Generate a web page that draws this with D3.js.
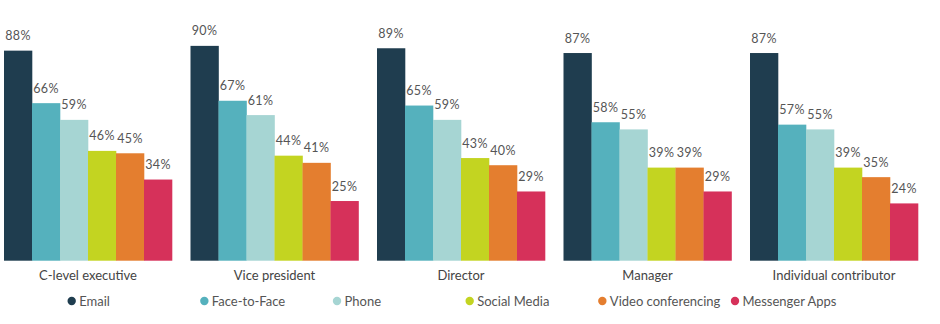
<!DOCTYPE html>
<html>
<head>
<meta charset="utf-8">
<script src="https://cdn.jsdelivr.net/npm/d3@7"></script>
<style>
  html, body { margin: 0; padding: 0; background: #fff; }
  svg { display: block; }
  text { font-family: Lato, "Open Sans", sans-serif; }
</style>
</head>
<body>
<svg id="chart" width="940" height="324"></svg>
<script>
const categories = ["C-level executive", "Vice president", "Director", "Manager", "Individual contributor"];
const seriesNames = ["Email", "Face-to-Face", "Phone", "Social Media", "Video conferencing", "Messenger Apps"];
const email       = [88, 90, 89, 87, 87];
const faceToFace  = [66, 67, 65, 58, 57];
const phone       = [59, 61, 59, 55, 55];
const socialMedia = [46, 44, 43, 39, 39];
const videoConf   = [45, 41, 40, 39, 35];
const messenger   = [34, 25, 29, 29, 24];
const colors = ["#1f3d4f", "#55b1bd", "#a6d5d3", "#c3d421", "#e47e2f", "#d6315a"];

const seriesValues = [email, faceToFace, phone, socialMedia, videoConf, messenger];

const svg = d3.select("#chart");
const baseY = 260.7;

const x0 = d3.scaleBand().domain(categories).range([4, 918]).paddingInner(0.0992).paddingOuter(0);
const x1 = d3.scaleBand().domain(seriesNames).range([0, x0.bandwidth()]).padding(0);
const y = d3.scaleLinear().domain([0, 100]).range([baseY, 22]);
const color = d3.scaleOrdinal().domain(seriesNames).range(colors);

const groups = svg.append("g").selectAll("g")
  .data(categories)
  .join("g")
  .attr("transform", d => `translate(${x0(d)},0)`);

const cells = groups.selectAll("g.cell")
  .data((c, ci) => seriesNames.map((s, si) => ({ s, v: seriesValues[si][ci] })))
  .join("g").attr("class", "cell");

cells.append("rect")
  .attr("x", d => x1(d.s))
  .attr("y", d => y(d.v))
  .attr("width", x1.bandwidth() + 0.3)
  .attr("height", d => baseY - y(d.v))
  .attr("fill", d => color(d.s));

cells.append("text")
  .attr("x", d => x1(d.s) + x1.bandwidth() / 2)
  .attr("y", d => y(d.v) - 10.5)
  .attr("text-anchor", "middle")
  .attr("font-size", 12.5)
  .attr("letter-spacing", 0.4)
  .attr("fill", "#555")
  .text(d => d.v + "%");

// category axis labels
const xAxis = d3.axisBottom(x0).tickSize(0).tickPadding(10);
const ax = svg.append("g").attr("transform", `translate(0,${baseY})`).call(xAxis);
ax.select(".domain").remove();
ax.selectAll("text")
  .attr("font-size", 13)
  .attr("fill", "#444")
  .style("font-family", "Lato, 'Open Sans', sans-serif");

// legend
const legendX = d3.scalePoint().domain(seriesNames).range([71.7, 735]);
const leg = svg.append("g").selectAll("g")
  .data(seriesNames)
  .join("g")
  .attr("transform", d => `translate(${legendX(d)},301)`);
leg.append("circle").attr("r", 4.2).attr("fill", d => color(d));
leg.append("text")
  .attr("x", 7.5)
  .attr("dy", "0.35em")
  .attr("font-size", 13)
  .attr("fill", "#555")
  .text(d => d);
</script>
</body>
</html>
